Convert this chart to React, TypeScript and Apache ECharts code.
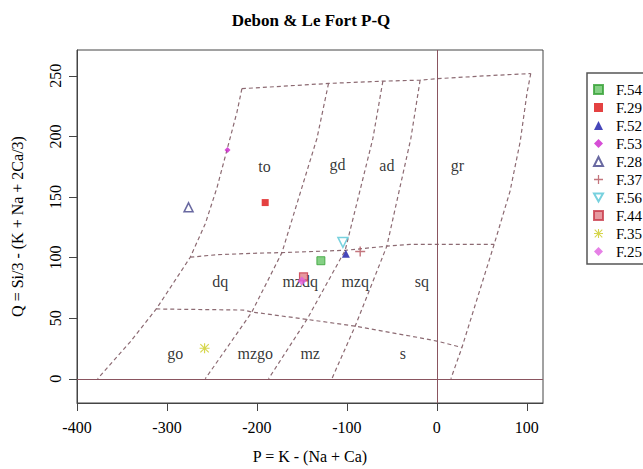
import React, { useEffect, useRef } from "react";
import * as echarts from "echarts";

const FONT = "'Liberation Serif', 'Times New Roman', serif";

// axis ticks
const xTicks = [-400, -300, -200, -100, 0, 100];
const yTicks = [0, 50, 100, 150, 200, 250];

// diagram boundaries (P, Q)
const outerTop = [[-216.7, 239.4], [-120.4, 243.7], [-60, 245.6], [-18.6, 246.4], [0, 247.6], [59.2, 250.2], [104.4, 251.9]];
const outerLeft = [[-216.7, 239.4], [-222.2, 220.0], [-233.3, 188.8], [-244.4, 157.7], [-257.4, 127.9], [-274.1, 100.3], [-292.7, 79.2], [-311.9, 57.6], [-340.8, 30.5], [-377.1, 0]];
const outerRight = [[104.4, 251.9], [100.3, 236.1], [92.6, 195.5], [81.4, 154.9], [63.7, 110.9], [48.1, 73.9], [27.9, 25.8], [15.6, 0]];
const lineQ100 = [[-274.1, 100.3], [-244.4, 102.4], [-196.3, 103.7], [-172.2, 104.1], [-101.9, 106.0], [-55.6, 109.4], [-29.7, 110.9], [0, 110.9], [63.7, 110.9]];
const lineQ50 = [[-311.9, 57.6], [-214.9, 56.7], [-205.6, 55.1], [-144.4, 49.0], [-90.8, 43.4], [-18.6, 33.8], [0, 31.1], [27.9, 25.8]];
const divide1 = [[-120.4, 243.7], [-133.3, 198.3], [-172.2, 104.1], [-205.6, 55.1], [-257.4, 0]];
const divide2 = [[-60, 245.6], [-71.1, 198.3], [-101.9, 106.0], [-144.4, 49.0], [-187.1, 0]];
const divide3 = [[-18.6, 246.4], [-28.9, 198.3], [-55.6, 109.4], [-90.8, 43.4], [-116.7, 0]];
const boundaries = [outerTop, outerLeft, outerRight, lineQ100, lineQ50, divide1, divide2, divide3];

// field names
const regionNames = ["to", "gd", "ad", "gr", "dq", "mzdq", "mzq", "sq", "go", "mzgo", "mz", "s"];
const regionP = [-191.6, -110.4, -55.6, 22.9, -240.8, -151.9, -90.8, -16.7, -290.8, -201.9, -140.8, -37.8];
const regionQ = [175.3, 176.6, 175.6, 176.1, 80.6, 80.6, 80.6, 80.6, 20.5, 20.5, 20.5, 20.5];

// samples
const sampleNames = ["F.54", "F.29", "F.52", "F.53", "F.28", "F.37", "F.56", "F.44", "F.35", "F.25"];
const sampleP = [-128.9, -190.8, -101.1, -232.7, -276.0, -85.2, -104.4, -148.2, -258.2, -150.0];
const sampleQ = [97.4, 145.4, 103.1, 188.8, 141.5, 105.0, 112.5, 84.1, 25.2, 80.6];

const PLUS = "path://M4.3,0H5.7V10H4.3Z M0,4.3H10V5.7H0Z";
const STAR = "path://M4.4,0H5.6V10H4.4Z M0,4.4H10V5.6H0Z M1.2,0.4L9.6,8.8L8.8,9.6L0.4,1.2Z M8.8,0.4L9.6,1.2L1.2,9.6L0.4,8.8Z";
const DOWN_TRI = "path://M0,0L10,0L5,9Z";

const sampleStyles: any[] = [
  { symbol: "rect", size: 8, itemStyle: { color: "#66c466", borderColor: "#35a035", borderWidth: 1 } },
  { symbol: "rect", size: 7, itemStyle: { color: "#dd1111" } },
  { symbol: "triangle", size: 8, itemStyle: { color: "#1818a8" } },
  { symbol: "diamond", size: 6, itemStyle: { color: "#cc22cc" } },
  { symbol: "triangle", size: 9, itemStyle: { color: "#ffffff", borderColor: "#44448a", borderWidth: 1.5 } },
  { symbol: PLUS, size: 10, itemStyle: { color: "#b4525c" } },
  { symbol: DOWN_TRI, size: 10, itemStyle: { color: "#ffffff", borderColor: "#55c6d6", borderWidth: 1.5 } },
  { symbol: "rect", size: 8, itemStyle: { color: "#e08088", borderColor: "#c83848", borderWidth: 1.2 } },
  { symbol: STAR, size: 10, itemStyle: { color: "#cccc22" } },
  { symbol: "diamond", size: 9, itemStyle: { color: "#e060e0" } },
];

export default function App() {
  const ref = useRef<HTMLDivElement>(null);
  useEffect(() => {
    const chart = echarts.init(ref.current!, null, { renderer: "svg" });
    const dashColor = "#8c6a72";
    const boundarySeries = boundaries.map((b, i) => ({
      type: "line",
      name: "b" + i,
      data: b,
      symbol: "none",
      silent: true,
      z: 1,
      lineStyle: { color: dashColor, width: 1.2, type: [4, 3] },
      ...(i === 0
        ? {
            markLine: {
              silent: true,
              symbol: "none",
              label: { show: false },
              lineStyle: { color: "#8a5560", width: 1, type: "solid" },
              data: [{ xAxis: 0 }, { yAxis: 0 }],
            },
          }
        : {}),
    }));
    const regionSeries = {
      type: "scatter",
      name: "regions",
      silent: true,
      z: 2,
      symbolSize: 0.1,
      itemStyle: { color: "transparent" },
      label: {
        show: true,
        position: "inside",
        formatter: "{b}",
        fontFamily: FONT,
        fontSize: 16,
        color: "#000",
      },
      data: regionNames.map((n, i) => ({ name: n, value: [regionP[i], regionQ[i]] })),
    };
    const sampleSeries = sampleNames.map((n, i) => ({
      type: "scatter",
      name: n,
      z: 3,
      symbol: sampleStyles[i].symbol,
      symbolSize: sampleStyles[i].size,
      itemStyle: sampleStyles[i].itemStyle,
      data: [[sampleP[i], sampleQ[i]]],
    }));

    const option: any = {
      animation: false,
      backgroundColor: "#ffffff",
      title: {
        text: "Debon & Le Fort P-Q",
        left: 311,
        top: 12,
        padding: 0,
        textAlign: "center",
        textStyle: { fontFamily: FONT, fontSize: 17, fontWeight: "bold", color: "#000" },
      },
      legend: {
        data: sampleNames,
        orient: "vertical",
        left: 593,
        top: 82,
        padding: 0,
        itemWidth: 9,
        itemHeight: 9,
        itemGap: 3,
        selectedMode: false,
        textStyle: { fontFamily: FONT, fontSize: 15, color: "#000", padding: [0, 0, 0, 8] },
      },
      graphic: [
        {
          type: "rect",
          shape: { x: 587, y: 73, width: 70, height: 191 },
          style: { fill: "none", stroke: "#555", lineWidth: 1.5 },
          silent: true,
        },
      ],
      grid: {
        left: 77,
        top: 50,
        width: 466,
        height: 359,
        show: true,
        borderColor: "#444",
        borderWidth: 1,
        containLabel: false,
      },
      xAxis: {
        type: "value",
        min: -400,
        max: 118,
        interval: 100,
        name: "P = K - (Na + Ca)",
        nameLocation: "middle",
        nameGap: 45,
        nameTextStyle: { fontFamily: FONT, fontSize: 16, color: "#000" },
        axisLine: { show: true, onZero: false, lineStyle: { color: "#444" } },
        axisTick: { show: true, length: 8, customValues: xTicks, lineStyle: { color: "#444" } },
        axisLabel: { customValues: xTicks, margin: 16, fontFamily: FONT, fontSize: 16, color: "#000" },
        splitLine: { show: false },
      },
      yAxis: {
        type: "value",
        min: -20,
        max: 271.3,
        name: "Q = Si/3 - (K + Na + 2Ca/3)",
        nameLocation: "middle",
        nameRotate: 90,
        nameGap: 52,
        nameTextStyle: { fontFamily: FONT, fontSize: 16, color: "#000" },
        axisLine: { show: true, onZero: false, lineStyle: { color: "#444" } },
        axisTick: { show: true, length: 8, customValues: yTicks, lineStyle: { color: "#444" } },
        axisLabel: { customValues: yTicks, rotate: 90, margin: 14, fontFamily: FONT, fontSize: 16, color: "#000" },
        splitLine: { show: false },
      },
      series: [...boundarySeries, regionSeries, ...sampleSeries],
    };
    chart.setOption(option);
    return () => chart.dispose();
  }, []);
  return <div ref={ref} style={{ position: "absolute", left: 0, top: 0, width: 643, height: 469 }} />;
}
